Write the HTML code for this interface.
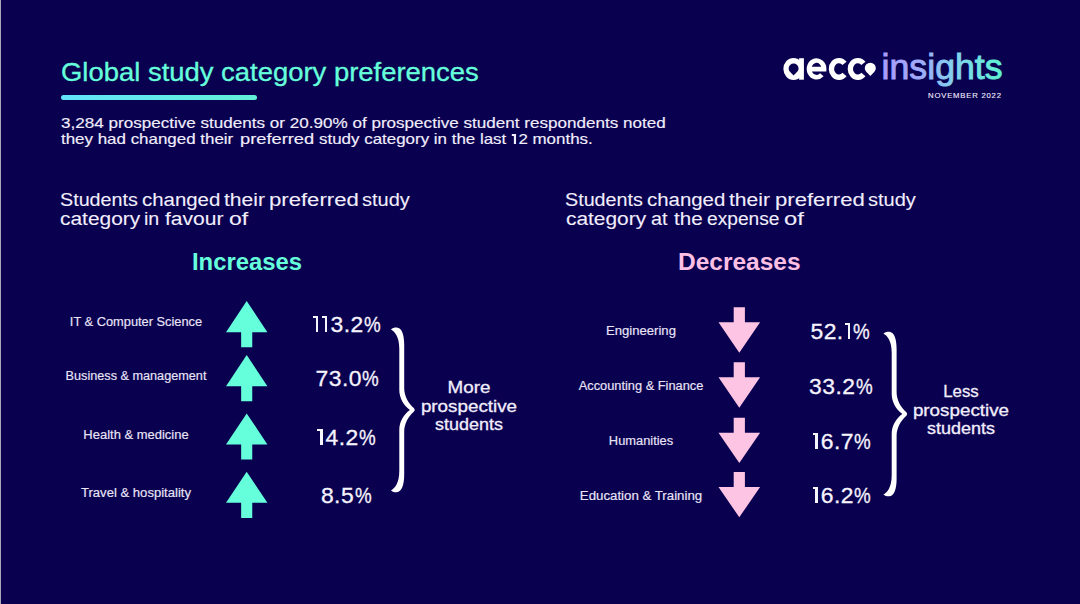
<!DOCTYPE html>
<html>
<head>
<meta charset="utf-8">
<title>Global study category preferences</title>
<style>
html,body{margin:0;padding:0;}
body{width:1080px;height:604px;overflow:hidden;background:#0a0050;font-family:"Liberation Sans",sans-serif;}
#stage{position:relative;width:1080px;height:604px;background:#0a0050;overflow:hidden;}
#edge{position:absolute;left:0;top:0;width:1px;height:604px;background:#aba8ba;}
.t{position:absolute;white-space:pre;line-height:1;transform-origin:0 0;color:#f1eefb;-webkit-text-stroke:0.3px currentColor;}
.c{transform-origin:50% 0;text-align:center;}
#title{left:60.6px;top:58.8px;font-size:26px;color:#66ffdc;transform:scaleX(1.055);}
#bar{position:absolute;left:61px;top:95px;width:196px;height:5px;border-radius:3px;background:linear-gradient(90deg,#63e4fa,#62f0d8);}
.p{left:61px;font-size:14.6px;transform:scaleX(1.17);-webkit-text-stroke:0.15px currentColor;}
.h{font-size:18.8px;-webkit-text-stroke:0.1px currentColor;}
.big{font-size:24.2px;font-weight:700;-webkit-text-stroke:0;}
.lab{font-size:12.3px;width:200px;color:#e9e5f7;transform:scaleX(1.045);-webkit-text-stroke:0.15px currentColor;}
.pct{font-size:22.9px;width:120px;color:#f6f4fc;letter-spacing:.45px;}
.one{display:inline-block;position:relative;width:.225em;height:.705em;margin:0 .13em 0 .05em;color:inherit;font-size:inherit;overflow:hidden;}
.one::before{content:"";position:absolute;right:0;top:0;width:.105em;height:100%;background:currentColor;}
.one::after{content:"";position:absolute;left:0;top:0;width:100%;height:.085em;background:currentColor;}
.p .one{width:.26em;}
.p .one::before{width:.15em;}
.p .one::after{height:.12em;}
.pc{display:inline-block;transform:scaleX(.82);transform-origin:0 0;margin-right:-.16em;margin-left:.02em;}
.note{font-size:16.5px;width:160px;transform:scaleX(1.14);}
svg{position:absolute;left:0;top:0;}
</style>
</head>
<body>
<div id="stage">
<div id="edge"></div>

<div class="t" id="title">Global study category preferences</div>
<div id="bar"></div>
<div class="t p" style="top:115.9px">3,284 prospective students or 20.90% of prospective student respondents noted</div>
<div class="t p" style="left:61.0px;top:132.2px;transform:scaleX(1.160)">they had changed their</div>
<div class="t p" style="left:240.4px;top:132.2px;transform:scaleX(1.253)">preferred</div>
<div class="t p" style="left:319.4px;top:132.2px;transform:scaleX(1.160)">study category in the last <span class="one"></span>2 months.</div>

<div class="t h" style="left:59.8px;top:190.99px;transform:scaleX(1.05)">Students</div>
<div class="t h" style="left:141.8px;top:190.99px;transform:scaleX(1.087)">changed</div>
<div class="t h" style="left:223.8px;top:190.99px;transform:scaleX(1.121)">their</div>
<div class="t h" style="left:269.2px;top:190.99px;transform:scaleX(1.178)">preferred</div>
<div class="t h" style="left:362.3px;top:190.99px;transform:scaleX(1.065)">study</div>
<div class="t h" style="left:60.1px;top:210.49px;transform:scaleX(1.113)">category</div>
<div class="t h" style="left:144.3px;top:210.49px;transform:scaleX(1.048)">in</div>
<div class="t h" style="left:164.9px;top:210.49px;transform:scaleX(1.121)">favour</div>
<div class="t h" style="left:228.9px;top:210.49px;transform:scaleX(1.221)">of</div>
<div class="t h" style="left:565.2px;top:190.99px;transform:scaleX(1.05)">Students</div>
<div class="t h" style="left:647.2px;top:190.99px;transform:scaleX(1.087)">changed</div>
<div class="t h" style="left:729.2px;top:190.99px;transform:scaleX(1.121)">their</div>
<div class="t h" style="left:774.6px;top:190.99px;transform:scaleX(1.178)">preferred</div>
<div class="t h" style="left:867.7px;top:190.99px;transform:scaleX(1.065)">study</div>
<div class="t h" style="left:565.5px;top:210.49px;transform:scaleX(1.112)">category</div>
<div class="t h" style="left:650.9px;top:210.49px;transform:scaleX(1.052)">at</div>
<div class="t h" style="left:674.2px;top:210.49px;transform:scaleX(1.098)">the</div>
<div class="t h" style="left:707.2px;top:210.49px;transform:scaleX(1.021)">expense</div>
<div class="t h" style="left:784.2px;top:210.49px;transform:scaleX(1.266)">of</div>

<div class="t big" style="left:192.0px;top:250.3px;color:#66ffdc;transform:scaleX(0.985)">Increases</div>
<div class="t big" style="left:678.4px;top:250.3px;color:#fdc0e4;transform:scaleX(1.012)">Decreases</div>

<!-- left labels -->
<div class="t c lab" style="left:36.4px;top:316.29px;transform:scaleX(1.043)">IT &amp; Computer Science</div>
<div class="t c lab" style="left:36.4px;top:370.29px;transform:scaleX(1.03)">Business &amp; management</div>
<div class="t c lab" style="left:36.4px;top:428.59px;transform:scaleX(1.055)">Health &amp; medicine</div>
<div class="t c lab" style="left:36.4px;top:487.29px;transform:scaleX(1.064)">Travel &amp; hospitality</div>
<!-- right labels -->
<div class="t c lab" style="left:540.6px;top:324.59px;transform:scaleX(1.065)">Engineering</div>
<div class="t c lab" style="left:540.6px;top:380.29px;transform:scaleX(1.042)">Accounting &amp; Finance</div>
<div class="t c lab" style="left:540.6px;top:435.29px;transform:scaleX(1.045)">Humanities</div>
<div class="t c lab" style="left:540.6px;top:489.59px;transform:scaleX(1.078)">Education &amp; Training</div>

<!-- left pct -->
<div class="t c pct" style="left:286.6px;top:313.22px"><span class="one"></span><span class="one"></span>3.2<span class="pc">%</span></div>
<div class="t c pct" style="left:287.5px;top:367.22px">73.0<span class="pc">%</span></div>
<div class="t c pct" style="left:286.3px;top:425.92px"><span class="one"></span>4.2<span class="pc">%</span></div>
<div class="t c pct" style="left:286.3px;top:483.92px">8.5<span class="pc">%</span></div>
<!-- right pct -->
<div class="t c pct" style="left:780.5px;top:319.92px">52.<span class="one"></span><span class="pc">%</span></div>
<div class="t c pct" style="left:781px;top:374.92px">33.2<span class="pc">%</span></div>
<div class="t c pct" style="left:781.5px;top:429.92px"><span class="one"></span>6.7<span class="pc">%</span></div>
<div class="t c pct" style="left:781.5px;top:484.22px"><span class="one"></span>6.2<span class="pc">%</span></div>

<!-- notes -->
<div class="t c note" style="left:389.1px;top:378.83px">More</div>
<div class="t c note" style="left:389.1px;top:397.73px">prospective</div>
<div class="t c note" style="left:389.1px;top:415.73px;transform:scaleX(1.09)">students</div>
<div class="t c note" style="left:881.3px;top:383.03px;transform:scaleX(1.02)">Less</div>
<div class="t c note" style="left:881.3px;top:401.93px">prospective</div>
<div class="t c note" style="left:881.3px;top:419.93px;transform:scaleX(1.09)">students</div>

<svg width="1080" height="604" viewBox="0 0 1080 604">
<defs>
<linearGradient id="ig" x1="883" y1="0" x2="1002" y2="0" gradientUnits="userSpaceOnUse">
<stop offset="0" stop-color="#aa9cff"/><stop offset="0.3" stop-color="#a0aafa"/><stop offset="0.55" stop-color="#88ccee"/><stop offset="0.8" stop-color="#70e4e0"/><stop offset="1" stop-color="#5ef2d0"/>
</linearGradient>
<path id="up" d="M0,-0.6 L20.7,30.5 L5.55,30.5 L5.55,45.6 L-5.55,45.6 L-5.55,30.5 L-20.7,30.5 Z"/>
<path id="dn" d="M-5.6,0 L5.6,0 L5.6,15 L20.8,15 L0,45.4 L-20.8,15 L-5.6,15 Z"/>
<path id="brace" d="M0.0,0.0 C1.5,-1.5 3.8,-1.9 5.8,-1.8 C10.6,-1.5 13.2,5.1 13.2,15.6 L13.2,58.6 C13.2,66.6 17.2,73.6 23.0,78.8 Q24.6,80.5 23.0,82.2 C17.2,87.4 13.2,94.4 13.2,102.4 L13.2,145.4 C13.2,155.9 10.6,162.5 5.8,162.8 C3.8,162.9 1.5,162.5 0.0,161.0 C3.5,158.9 8.3,154.4 8.3,141.4 L8.3,100.4 C8.3,92.4 12.5,85.1 18.9,80.5 C12.5,75.9 8.3,68.6 8.3,60.6 L8.3,19.6 C8.3,6.6 3.5,2.1 0.0,0.0 Z" fill="#ffffff"/>
</defs>
<g fill="#66ffdc">
<use href="#up" x="246.7" y="301.7"/>
<use href="#up" x="246.7" y="355.7"/>
<use href="#up" x="246.7" y="414"/>
<use href="#up" x="246.7" y="472.3"/>
</g>
<g fill="#fec4e4">
<use href="#dn" x="739.3" y="307.3"/>
<use href="#dn" x="739.3" y="362.3"/>
<use href="#dn" x="739.3" y="417.7"/>
<use href="#dn" x="739.3" y="471.9"/>
</g>
<use href="#brace" x="391.0" y="329.4"/>
<use href="#brace" x="883.4" y="333.5"/>

<!-- aecc logo -->
<g id="aecc" fill="none" stroke="#ffffff" stroke-width="5.3">
<path d="M799.1,58.2 L803.9,58.2 L803.9,79.7 L799.1,79.7 Z" fill="#ffffff" stroke="none"/>
<ellipse cx="793.5" cy="68.9" rx="10.1" ry="11" fill="#ffffff" stroke="none"/>
<path d="M793.6,63.5 a4.95,4.95 0 0 1 4.95,4.95 c0,2.9 -2.6,4.3 -4.95,7 c-2.35,-2.7 -4.95,-4.1 -4.95,-7 a4.95,4.95 0 0 1 4.95,-4.95 z" fill="#0a0050" stroke="none"/>
<path d="M844.52,74.49 A7.5,8.35 0 1 1 844.52,63.31"/>
<path d="M863.42,74.49 A7.5,8.35 0 1 1 863.42,63.31"/>
<path d="M821.85,74.80 A7.5,8.35 0 1 1 824.05,69.15 L809.05,69.15" stroke-width="4.7"/>
</g>
<path d="M870.3,62.7 a5.5,5.5 0 0 1 5.5,5.5 c0,3.1 -2.9,4.7 -5.4,7.7 c-2.5,-3 -5.6,-4.6 -5.6,-7.7 a5.5,5.5 0 0 1 5.5,-5.5 z" fill="#ffffff"/>
<text x="881.6" y="78.7" font-family="Liberation Sans, sans-serif" font-size="35" fill="url(#ig)" stroke="url(#ig)" stroke-width="0.9" textLength="121" lengthAdjust="spacingAndGlyphs">insights</text>
</svg>
<div class="t" style="left:928.1px;top:91.68px;font-size:7.7px;letter-spacing:0.8px;color:#f1eefb;-webkit-text-stroke:0.12px currentColor">NOVEMBER 2022</div>
</div>
</body>
</html>
